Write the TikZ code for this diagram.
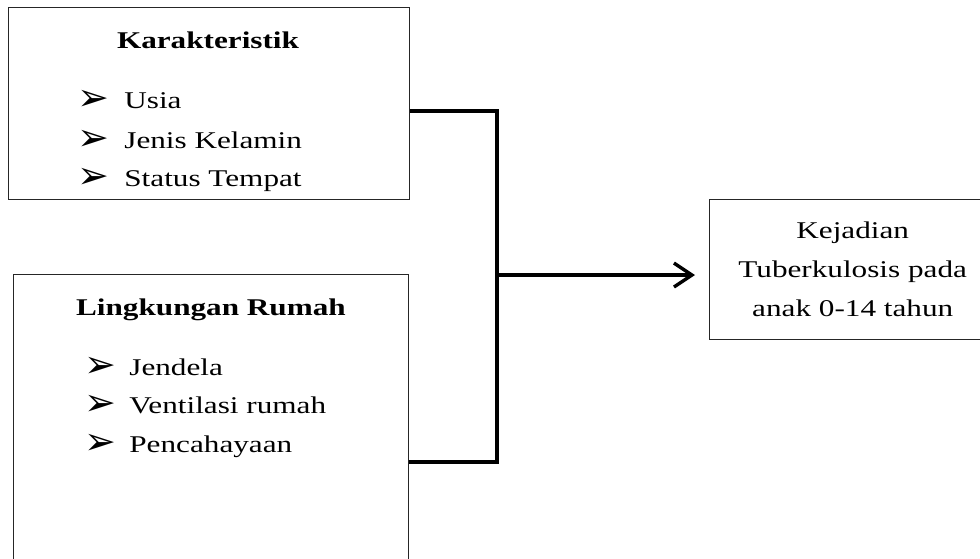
\documentclass[tikz,border=0pt]{standalone}
\usepackage{fontspec}
\setmainfont{Liberation Serif}[FakeStretch=1.3]
\newfontfamily\dingfont{DejaVu Sans}
\usetikzlibrary{positioning,calc}
\usetikzlibrary{arrows.meta}
\tikzset{
  box/.style={draw=black!85,line width=0.7pt,inner sep=0pt,anchor=north west},
  title/.style={font=\fontsize{12}{19.5}\selectfont\bfseries,anchor=base,inner sep=0pt},
  item/.style={font=\fontsize{12}{19.5}\selectfont,anchor=base west,inner sep=0pt},
  link/.style={draw=black,line width=1.7pt},
}
\newcommand{\bul}[1]{\makebox[#1][l]{\dingfont\fontsize{19}{20}\selectfont\raisebox{-1pt}{➢}}}

\begin{document}
\begin{tikzpicture}[x=0.5pt,y=-0.5pt]
\useasboundingbox (0,0) rectangle (980,558);
\clip (0,0) rectangle (980,558);
% boxes
\node[box,minimum width=200.5pt,minimum height=96pt] (krt) at (8,7) {};
\node[box,minimum width=197.5pt,minimum height=160pt] (lkr) at (13,274) {};
\node[box,minimum width=143pt,minimum height=70pt,align=center,
  font=\fontsize{12}{19.5}\selectfont] (kej) at (709,199) {Kejadian\\Tuberkulosis pada\\anak 0-14 tahun};
% texts
\node[title] (krtT) at (208,48) {Karakteristik};
\begin{scope}
\clip (krt.north west) rectangle (krt.south east);
\node[item] (usia) at (77,108) {\bul{23.5pt}Usia};
\node[item] (jk) at (77,148) {\bul{23.5pt}Jenis Kelamin};
\node[item] (st) at (77,186) {\bul{23.5pt}Status Tempat};
\end{scope}
\node[title] (lkrT) at (211,315) {Lingkungan Rumah};
\node[item] (jd) at (84,375) {\bul{22.5pt}Jendela};
\node[item] (vr) at (84,413) {\bul{22.5pt}Ventilasi rumah};
\node[item] (pc) at (84,452) {\bul{22.5pt}Pencahayaan};
% connectors
\coordinate (j1) at (497,111);
\coordinate (j2) at (497,462);
\coordinate (j3) at (497,275);
\draw[link] (krt.east |- j1) -- (j1) -- (j2) -- (lkr.east |- j2);
\draw[link,-{Straight Barb[length=9pt,width=12pt]},shorten >=7pt] (j3) -- (kej.west |- j3);
\end{tikzpicture}
\end{document}
